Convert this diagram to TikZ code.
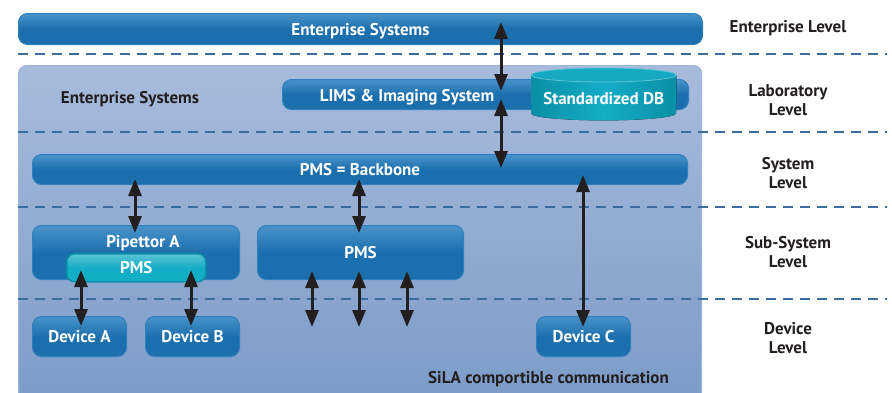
\documentclass[tikz,border=0pt]{standalone}
\usepackage{fontspec}
\setmainfont{PT Sans}
\usetikzlibrary{arrows.meta,calc}
\definecolor{barTop}{HTML}{4A93CB}
\definecolor{barBot}{HTML}{1B6FAC}
\definecolor{barEdge}{HTML}{2F80BE}
\definecolor{panTop}{HTML}{A8BBDC}
\definecolor{panBot}{HTML}{7B9BC8}
\definecolor{panEdge}{HTML}{9CB5DB}
\definecolor{dashC}{HTML}{3B6C9E}
\definecolor{tealA}{HTML}{14ADC6}
\definecolor{tealB}{HTML}{0A8FA6}
\definecolor{tealTop}{HTML}{16A9C2}
\definecolor{tealLt}{HTML}{5CC3D6}
\definecolor{ink}{HTML}{231F20}
\begin{document}
\begin{tikzpicture}[x=1pt,y=-1pt,
  bar/.style={rounded corners=9pt, top color=barTop, bottom color=barBot, middle color=barBot,
    draw=barEdge, line width=1pt, inner sep=0pt, anchor=north west,
    text=white, font=\fontsize{17}{19}\selectfont\bfseries, text height=12pt, text depth=0pt},
  tealbar/.style={rounded corners=8pt, top color=tealLt, bottom color=tealA, middle color=tealA,
    draw=tealB, line width=1.5pt, inner sep=0pt, anchor=north west,
    text=white, font=\fontsize{17}{19}\selectfont\bfseries, text height=12pt, text depth=0pt},
  panel/.style={rounded corners=8pt, top color=panTop, bottom color=panBot,
    draw=panEdge, line width=1.2pt, inner sep=0pt, anchor=north west},
  wtxt/.style={text=white, font=\fontsize{17}{19}\selectfont\bfseries, inner sep=0pt},
  ktxt/.style={text=ink, font=\fontsize{17}{19}\selectfont\bfseries, inner sep=0pt, align=center},
  sep/.style={dashC, line width=2.5pt, dash pattern=on 10pt off 7pt},
  dbl/.style={ink, line width=3pt, {Triangle[length=17pt,width=13pt]}-{Triangle[length=17pt,width=13pt]}}
]
\useasboundingbox (0,0) rectangle (892,392);
\clip (0,0) rectangle (892,392);
\fill[white] (0,0) rectangle (892,392);

% panel
\node[panel, minimum width=683pt, minimum height=340pt] (pan) at (18,65) {};

% separators
\draw[sep] (18,54) -- (887,54);
\draw[sep] (18,132) -- (887,132);
\draw[sep] (18,207) -- (887,207);
\draw[sep] (18,299) -- (887,299);

% top level
\node[bar, minimum width=684pt, minimum height=31pt] (ent) at (18,13) {Enterprise Systems};
\node[ktxt, anchor=mid] (entlab) at (130,101) {Enterprise Systems};

% laboratory
\node[bar, minimum width=406pt, minimum height=30pt] (lims) at (282,79) {};
\node[wtxt, anchor=mid] (limst) at (407,99) {LIMS \& Imaging System};

% database cylinder
\node[inner sep=0pt, minimum width=145pt, minimum height=52pt, anchor=north west] (db) at (531,68) {};
\fill[left color=tealB, right color=tealB, middle color=tealA]
  ($(db.north west)+(0,7)$) -- ($(db.south west)+(0,-7)$) arc (180:360:72.5pt and 7pt)
  -- ($(db.north east)+(0,7)$) -- cycle;
\draw[tealLt, line width=0.8pt, fill=tealTop] ($(db.north)+(0,7)$) ellipse [x radius=72.5pt, y radius=7pt];
\node[wtxt, anchor=mid] (dbt) at ($(db.center)+(0,8)$) {Standardized DB};

% system
\node[bar, minimum width=655pt, minimum height=30pt] (bb) at (32,154) {PMS = Backbone};

% sub-system
\node[bar, minimum width=207pt, minimum height=54pt] (pip) at (32,225) {};
\node[wtxt, anchor=mid] (pipt) at (143,245) {Pipettor A};
\node[tealbar, minimum width=139pt, minimum height=28pt] (pms1) at (66,253) {PMS};
\node[bar, minimum width=206pt, minimum height=54pt] (pms2) at (257,225) {PMS};

% devices
\node[bar, minimum width=94pt, minimum height=40pt] (devA) at (32,316) {Device A};
\node[bar, minimum width=94pt, minimum height=40pt] (devB) at (145,316) {Device B};
\node[bar, minimum width=94pt, minimum height=40pt] (devC) at (536,316) {Device C};

\node[ktxt, anchor=mid east] (sila) at (669,381) {SiLA comportible communication};

% right labels
\node[ktxt, anchor=mid] (l1) at (788,30) {Enterprise Level};
\node[ktxt] (l2) at (788,100) {Laboratory\\Level};
\node[ktxt] (l3) at (788,173) {System\\Level};
\node[ktxt] (l4) at (788,252) {Sub-System\\Level};
\node[ktxt] (l5) at (788,338) {Device\\Level};

% arrow x positions
\coordinate (xa) at (501,0);
\coordinate (xb) at (135,0);
\coordinate (xc) at (359,0);
\coordinate (xd) at (583,0);
\coordinate (xe) at (81,0);
\coordinate (xf) at (191,0);
\coordinate (xg) at (312,0);
\coordinate (xh) at (407,0);
\coordinate (f1) at (312,327);
\coordinate (f2) at (359,327);
\coordinate (f3) at (407,327);

\draw[dbl] ($(xa |- ent.north)+(0,9)$) -- ($(xa |- lims.north)+(0,12)$);
\draw[dbl] ($(xa |- lims.north)+(0,20)$) -- ($(xa |- bb.north)+(0,14)$);
\draw[dbl] ($(xb |- bb.south)+(0,-6)$) -- ($(xb |- pip.north)+(0,8)$);
\draw[dbl] ($(xc |- bb.south)+(0,-6)$) -- ($(xc |- pms2.north)+(0,8)$);
\draw[dbl] ($(xd |- bb.south)+(0,-10)$) -- ($(xd |- devC.north)+(0,11)$);
\draw[dbl] ($(xe |- pms1.north)+(0,17)$) -- ($(xe |- devA.north)+(0,10)$);
\draw[dbl] ($(xf |- pms1.north)+(0,17)$) -- ($(xf |- devB.north)+(0,10)$);
\draw[dbl] ($(xg |- pms2.south)+(0,-9)$) -- (f1);
\draw[dbl] ($(xc |- pms2.south)+(0,-9)$) -- (f2);
\draw[dbl] ($(xh |- pms2.south)+(0,-9)$) -- (f3);
\end{tikzpicture}
\end{document}
